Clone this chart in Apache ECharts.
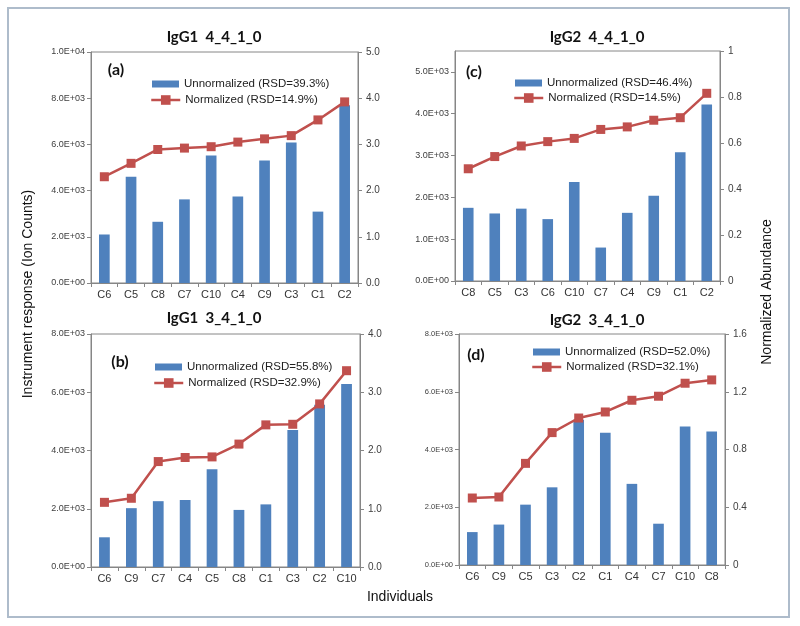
<!DOCTYPE html>
<html>
<head>
<meta charset="utf-8">
<script src="https://cdn.jsdelivr.net/npm/echarts@6/dist/echarts.min.js"></script>
<style>
  html, body { margin: 0; padding: 0; background: #fff; }
  #chart { width: 800px; height: 626px; }
</style>
</head>
<body>
<div id="chart"></div>
<script>
// panel (a) IgG1 4_4_1_0
const catsA = ['C6', 'C5', 'C8', 'C7', 'C10', 'C4', 'C9', 'C3', 'C1', 'C2'];
const unnormA = [2100, 4600, 2650, 3620, 5520, 3740, 5300, 6080, 3090, 7700];
const normA = [2.30, 2.59, 2.89, 2.92, 2.95, 3.05, 3.12, 3.19, 3.53, 3.92];
// panel (b) IgG1 3_4_1_0
const catsB = ['C6', 'C9', 'C7', 'C4', 'C5', 'C8', 'C1', 'C3', 'C2', 'C10'];
const unnormB = [1020, 2020, 2260, 2300, 3360, 1960, 2150, 4700, 5570, 6280];
const normB = [1.11, 1.18, 1.81, 1.88, 1.89, 2.11, 2.44, 2.45, 2.80, 3.37];
// panel (c) IgG2 4_4_1_0
const catsC = ['C8', 'C5', 'C3', 'C6', 'C10', 'C7', 'C4', 'C9', 'C1', 'C2'];
const unnormC = [1750, 1615, 1730, 1480, 2370, 800, 1630, 2040, 3080, 4220];
const normC = [0.488, 0.541, 0.587, 0.606, 0.620, 0.659, 0.670, 0.699, 0.710, 0.816];
// panel (d) IgG2 3_4_1_0
const catsD = ['C6', 'C9', 'C5', 'C3', 'C2', 'C1', 'C4', 'C7', 'C10', 'C8'];
const unnormD = [1140, 1400, 2090, 2690, 5030, 4580, 2810, 1430, 4800, 4620];
const normD = [0.464, 0.471, 0.704, 0.917, 1.018, 1.060, 1.141, 1.169, 1.259, 1.282];

const BLUE = '#4F81BD';
const RED = '#C0504D';
const AXIS = '#868686';
const FONT = 'Liberation Sans';

function sci(v) {
  if (v === 0) return '0.0E+00';
  const e = Math.floor(Math.log10(v) + 1e-9);
  const m = v / Math.pow(10, e);
  return m.toFixed(1) + 'E+' + (e < 10 ? '0' + e : e);
}

const panels = [
  { title: 'IgG1  4_4_1_0', tag: '(a)', cats: catsA, bars: unnormA, line: normA,
    barName: 'Unnormalized (RSD=39.3%)', lineName: 'Normalized (RSD=14.9%)',
    grid: { left: 91, top: 52, width: 267, height: 231 },
    lMax: 10000, lInt: 2000, rMax: 5, rInt: 1, rFmt: v => v.toFixed(1), lSize: 9,
    titleX: 214, titleY: 37, tagX: 116, tagY: 70, legLeft: 152, legY: [84, 100] },
  { title: 'IgG1  3_4_1_0', tag: '(b)', cats: catsB, bars: unnormB, line: normB,
    barName: 'Unnormalized (RSD=55.8%)', lineName: 'Normalized (RSD=32.9%)',
    grid: { left: 91, top: 334, width: 269, height: 233 },
    lMax: 8000, lInt: 2000, rMax: 4, rInt: 1, rFmt: v => v.toFixed(1), lSize: 9,
    titleX: 214, titleY: 318, tagX: 120, tagY: 362, legLeft: 155, legY: [367, 383] },
  { title: 'IgG2  4_4_1_0', tag: '(c)', cats: catsC, bars: unnormC, line: normC,
    barName: 'Unnormalized (RSD=46.4%)', lineName: 'Normalized (RSD=14.5%)',
    grid: { left: 455, top: 51, width: 265, height: 230 },
    lMax: 5500, lInt: 1000, rMax: 1, rInt: 0.2,
    rFmt: v => (v === 0 || v === 1) ? String(v) : v.toFixed(1), lSize: 9, hideTop: true,
    titleX: 597, titleY: 37, tagX: 474, tagY: 72, legLeft: 515, legY: [83, 98] },
  { title: 'IgG2  3_4_1_0', tag: '(d)', cats: catsD, bars: unnormD, line: normD,
    barName: 'Unnormalized (RSD=52.0%)', lineName: 'Normalized (RSD=32.1%)',
    grid: { left: 459, top: 334, width: 266, height: 231 },
    lMax: 8000, lInt: 2000, rMax: 1.6, rInt: 0.4,
    rFmt: v => v === 0 ? '0' : v.toFixed(1), lSize: 7.5,
    titleX: 597, titleY: 320, tagX: 476, tagY: 355, legLeft: 533, legY: [352, 367] }
];

const grid = [], xAxis = [], yAxis = [], series = [], legend = [], graphic = [];
const legendText = { fontFamily: FONT, fontSize: 11.5, color: '#222', lineHeight: 14 };

panels.forEach((p, i) => {
  grid.push(Object.assign({ show: true, borderColor: AXIS, borderWidth: 1, backgroundColor: 'transparent' }, p.grid));
  xAxis.push({
    type: 'category', gridIndex: i, data: p.cats,
    axisLine: { lineStyle: { color: AXIS } },
    axisTick: { show: true, length: 4, lineStyle: { color: AXIS } },
    axisLabel: { fontFamily: FONT, fontSize: 11, color: '#333', margin: 6 }
  });
  yAxis.push({
    type: 'value', gridIndex: i, position: 'left', min: 0, max: p.lMax, interval: p.lInt,
    axisLine: { show: true, lineStyle: { color: AXIS } },
    axisTick: { show: true, length: 4, lineStyle: { color: AXIS } },
    splitLine: { show: false },
    axisLabel: { fontFamily: FONT, fontSize: p.lSize, color: '#404040', margin: 6,
      showMaxLabel: !p.hideTop, formatter: sci }
  });
  yAxis.push({
    type: 'value', gridIndex: i, position: 'right', min: 0, max: p.rMax, interval: p.rInt,
    axisLine: { show: true, lineStyle: { color: AXIS } },
    axisTick: { show: true, length: 4, lineStyle: { color: AXIS } },
    splitLine: { show: false },
    axisLabel: { fontFamily: FONT, fontSize: 10, color: '#404040', margin: 8, formatter: p.rFmt }
  });
  series.push({
    name: p.barName, type: 'bar', xAxisIndex: i, yAxisIndex: 2 * i,
    data: p.bars, barWidth: '40%', itemStyle: { color: BLUE }
  });
  series.push({
    name: p.lineName, type: 'line', xAxisIndex: i, yAxisIndex: 2 * i + 1,
    data: p.line, symbol: 'rect', symbolSize: 9,
    lineStyle: { color: RED, width: 2.5 }, itemStyle: { color: RED }
  });
  // bar legend entry
  legend.push({
    left: p.legLeft, top: p.legY[0] - 7, padding: 0, itemGap: 0,
    itemWidth: 27, itemHeight: 7, icon: 'rect', textStyle: legendText,
    data: [p.barName]
  });
  // line legend entry (taller so the square marker is full size)
  legend.push({
    left: p.legLeft - 2, top: p.legY[1] - 7, padding: 0, itemGap: 0,
    itemWidth: 29, itemHeight: 12, textStyle: legendText,
    lineStyle: { width: 2.5 },
    data: [p.lineName]
  });
  graphic.push({
    type: 'text', x: p.titleX, y: p.titleY,
    style: { text: p.title, align: 'center', verticalAlign: 'middle',
      textAlign: 'center', textVerticalAlign: 'middle',
      font: 'bold 15px Lato', fill: '#111' }
  });
  graphic.push({
    type: 'text', x: p.tagX, y: p.tagY,
    style: { text: p.tag, align: 'center', verticalAlign: 'middle',
      textAlign: 'center', textVerticalAlign: 'middle',
      font: 'bold 16px Lato', fill: '#111' }
  });
});

graphic.push(
  { type: 'rect', shape: { x: 8, y: 8, width: 781, height: 609 },
    style: { fill: 'none', stroke: '#aebccb', lineWidth: 2 } },
  { type: 'text', x: 28, y: 294, rotation: Math.PI / 2,
    style: { text: 'Instrument response (Ion Counts)', align: 'center', verticalAlign: 'middle',
      textAlign: 'center', textVerticalAlign: 'middle', font: '14px "Liberation Sans"', fill: '#111' } },
  { type: 'text', x: 767, y: 292, rotation: Math.PI / 2,
    style: { text: 'Normalized Abundance', align: 'center', verticalAlign: 'middle',
      textAlign: 'center', textVerticalAlign: 'middle', font: '14px "Liberation Sans"', fill: '#111' } },
  { type: 'text', x: 400, y: 597,
    style: { text: 'Individuals', align: 'center', verticalAlign: 'middle',
      textAlign: 'center', textVerticalAlign: 'middle', font: '14px "Liberation Sans"', fill: '#111' } }
);

const chart = echarts.init(document.getElementById('chart'), null, { renderer: 'canvas' });
chart.setOption({
  animation: false,
  backgroundColor: '#fff',
  grid, xAxis, yAxis, series, legend, graphic
});
</script>
</body>
</html>
